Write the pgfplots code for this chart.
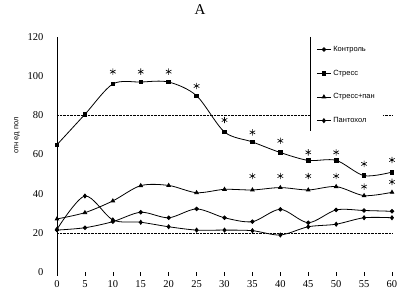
\documentclass[border=0pt]{standalone}
\usepackage{fontspec}
\setmainfont{Liberation Serif}
\newfontfamily\legfont{Liberation Sans}
\usepackage{pgfplots}
\pgfplotsset{compat=1.18}
\begin{document}
\begin{tikzpicture}
\begin{axis}[
  scale only axis, width=335pt, height=235pt,
  xmin=0, xmax=60, ymin=0, ymax=120,
  clip=false,
  axis lines=left, axis line style={-, black, line width=0.8pt},
  x axis line style={draw=none},
  xtick={0,5,...,60}, ytick={0,20,...,120},
  tick align=outside,
  xtick style={black, line width=0.6pt}, major tick length=4pt,
  ytick style={draw=none},
  /pgf/number format/assume math mode=true,
  tick label style={font=\fontsize{10.5}{12}\selectfont},
  yticklabel style={xshift=-6pt},
  xticklabel style={yshift=-1pt},
  extra y ticks={20,80}, extra y tick labels={},
  extra y tick style={grid=major, major grid style={black, densely dotted, line width=0.6pt}, tick style={draw=none}},
  title={A}, title style={at={(axis description cs:0.427,1)}, anchor=base, yshift=16pt, font=\fontsize{15}{15}\selectfont},
  ylabel={отн ед пол}, ylabel style={at={(axis description cs:0,0.58)}, anchor=center, yshift=40pt, font=\legfont\fontsize{7.5}{8}\selectfont},
  legend style={at={(axis description cs:0.755,1)}, anchor=north west, xshift=0.4pt, draw=none, fill=white,
    font=\legfont\fontsize{7.5}{8}\selectfont, row sep=13pt, inner ysep=7pt, inner xsep=6pt},
  legend cell align=left,
  legend image code/.code={\draw[#1] (0pt,0pt) -- (7pt,0pt) -- (14pt,0pt); \path[#1, draw=none] plot coordinates {(7pt,0pt)};},
]
\addplot[smooth, black, line width=0.8pt, mark=*, mark size=1.8pt, mark options={solid, fill=black}] coordinates {(0,21.4)(5,22.6)(10,25.7)(15,30.5)(20,27.7)(25,32.2)(30,27.7)(35,25.7)(40,32)(45,25.2)(50,31.7)(55,31.4)(60,31)};
\addlegendentry{Контроль}
\addplot[smooth, black, line width=0.8pt, mark=square*, mark size=1.8pt, mark options={solid, fill=black}] coordinates {(0,65)(5,80.5)(10,96)(15,97)(20,97)(25,90)(30,71.5)(35,66.4)(40,61)(45,57)(50,57)(55,49.2)(60,51)};
\addlegendentry{Стресс}
\addplot[smooth, black, line width=0.8pt, mark=triangle*, mark size=2pt, mark options={solid, fill=black}] coordinates {(0,27.1)(5,30.3)(10,36.3)(15,44.1)(20,44.2)(25,40.5)(30,42.2)(35,41.9)(40,43.1)(45,41.9)(50,43.6)(55,39)(60,40.7)};
\addlegendentry{Стресс+пан}
\addplot[smooth, black, line width=0.8pt, mark=diamond*, mark size=2pt, mark options={solid, fill=black}] coordinates {(0,21.8)(5,38.8)(10,26.6)(15,25.4)(20,23.1)(25,21.4)(30,21.4)(35,21.1)(40,18.9)(45,23.1)(50,24.4)(55,27.7)(60,27.7)};
\addlegendentry{Пантохол}
\addplot[only marks, black, mark=asterisk, mark size=3.2pt, line width=0.6pt, forget plot] coordinates {(10,102.3)(15,102.3)(20,102.3)(25,95)(30,77.6)(35,71.3)(40,67)(45,61.1)(50,61.1)(55,55.2)(60,57.2)};
\addplot[only marks, black, mark=asterisk, mark size=3.2pt, line width=0.6pt, forget plot] coordinates {(35,49)(40,49)(45,49)(50,49)(55,43.6)(60,46)};
\draw[black, line width=0.8pt] (axis description cs:0.755,1) -- (axis description cs:0.755,0.6);
\end{axis}
\pgfresetboundingbox
\path[use as bounding box] (-57pt,-22pt) rectangle (342pt,272pt);
\end{tikzpicture}
\end{document}
